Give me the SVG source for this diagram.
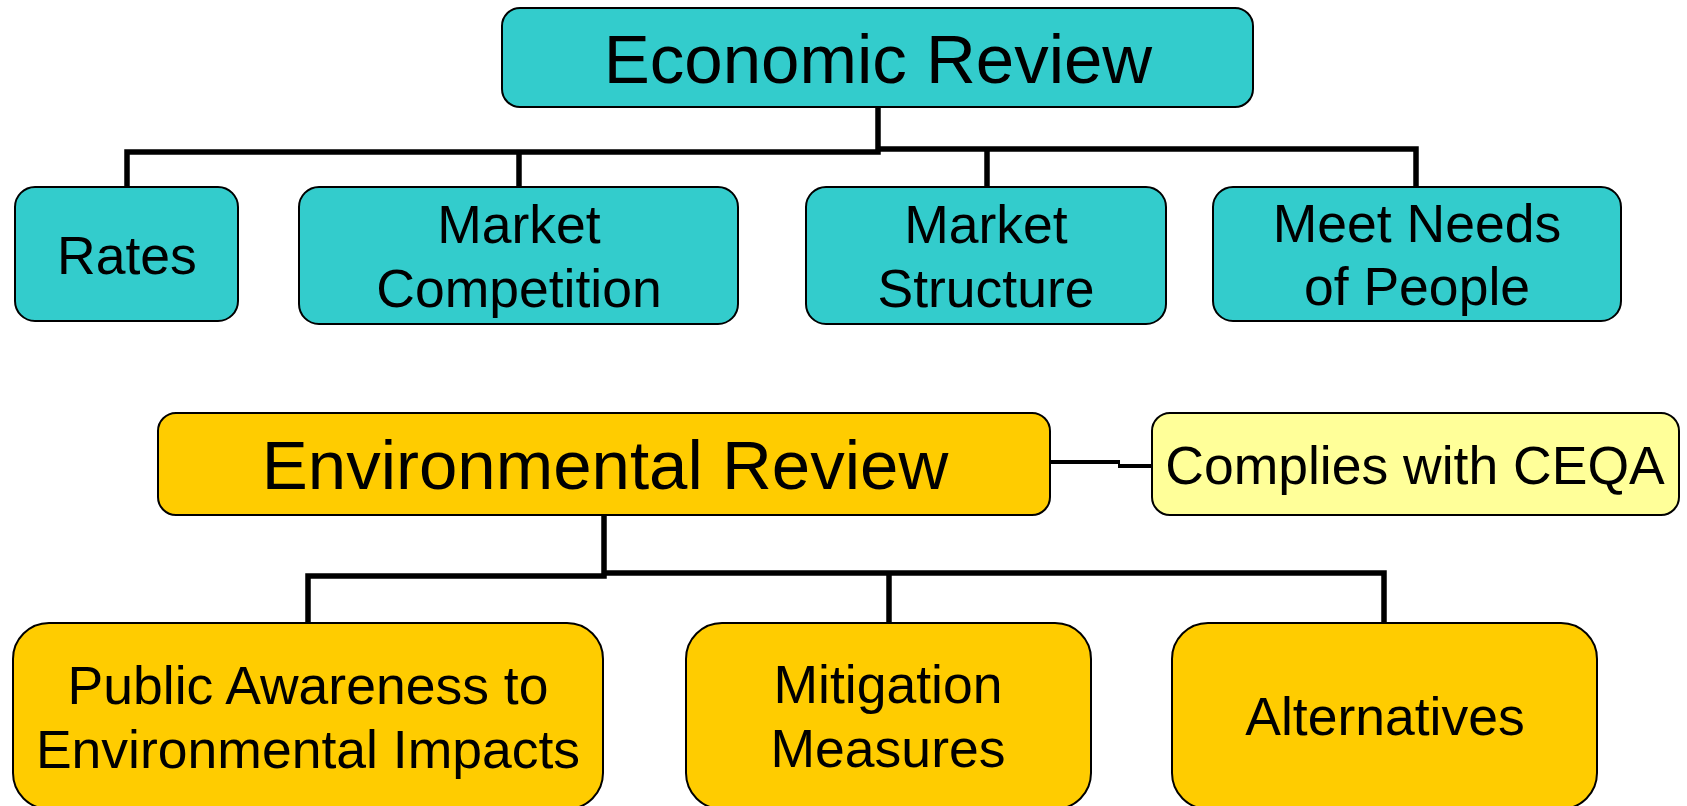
<svg xmlns="http://www.w3.org/2000/svg" width="1687" height="806" viewBox="0 0 1687 806">
<style>
.box{stroke:#000;stroke-width:2}
.teal{fill:#33CCCC}
.orange{fill:#FFCC00}
.pale{fill:#FFFF99}
.t{font-family:"Liberation Sans",Arial,sans-serif;fill:#000;text-anchor:middle}
.big{font-size:69px}
.mid{font-size:53.5px}
.conn{fill:none;stroke:#000;stroke-width:5.5;stroke-linejoin:miter}
</style>
<rect width="1687" height="806" fill="#fff"/>
<g id="connectors">
<path class="conn" d="M878,107 V152 H127 V187"/>
<path class="conn" d="M519,152 V187"/>
<path class="conn" d="M878,149 H1416 V187"/>
<path class="conn" d="M987,149 V187"/>
<path class="conn" d="M604,515 V576 H308 V623"/>
<path class="conn" d="M604,573 H1384 V623"/>
<path class="conn" d="M889,573 V623"/>
<path class="conn" style="stroke-width:4" d="M1050,462 H1120"/>
<path class="conn" style="stroke-width:4" d="M1118,466 H1152"/>
</g>
<g id="economic">
<rect class="box teal" x="502" y="8" width="751" height="99" rx="18"/>
<text class="t big" x="878" y="83">Economic Review</text>
</g>
<g id="rates">
<rect class="box teal" x="15" y="187" width="223" height="134" rx="20"/>
<text class="t mid" x="127" y="274">Rates</text>
</g>
<g id="market-competition">
<rect class="box teal" x="299" y="187" width="439" height="137" rx="20"/>
<text class="t mid" x="519" y="243">Market</text>
<text class="t mid" x="519" y="307">Competition</text>
</g>
<g id="market-structure">
<rect class="box teal" x="806" y="187" width="360" height="137" rx="20"/>
<text class="t mid" x="986" y="243">Market</text>
<text class="t mid" x="986" y="307">Structure</text>
</g>
<g id="meet-needs">
<rect class="box teal" x="1213" y="187" width="408" height="134" rx="20"/>
<text class="t mid" x="1417" y="242">Meet Needs</text>
<text class="t mid" x="1417" y="305">of People</text>
</g>
<g id="environmental">
<rect class="box orange" x="158" y="413" width="892" height="102" rx="18"/>
<text class="t big" x="605" y="489">Environmental Review</text>
</g>
<g id="ceqa">
<rect class="box pale" x="1152" y="413" width="527" height="102" rx="18"/>
<text class="t mid" x="1415" y="484">Complies with CEQA</text>
</g>
<g id="public-awareness">
<rect class="box orange" x="13" y="623" width="590" height="186" rx="36"/>
<text class="t mid" x="308" y="704">Public Awareness to</text>
<text class="t mid" x="308" y="768">Environmental Impacts</text>
</g>
<g id="mitigation">
<rect class="box orange" x="686" y="623" width="405" height="186" rx="36"/>
<text class="t mid" x="888" y="703">Mitigation</text>
<text class="t mid" x="888" y="767">Measures</text>
</g>
<g id="alternatives">
<rect class="box orange" x="1172" y="623" width="425" height="186" rx="36"/>
<text class="t mid" x="1385" y="735">Alternatives</text>
</g>
</svg>
